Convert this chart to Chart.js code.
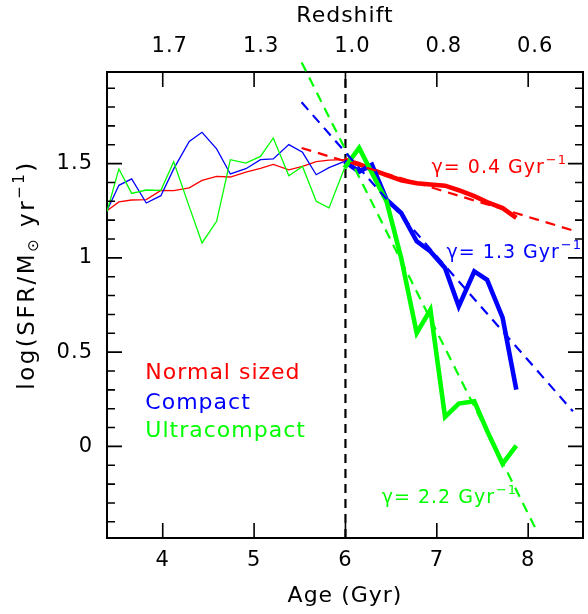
<!DOCTYPE html>
<html>
<head>
<meta charset="utf-8">
<script src="https://cdn.jsdelivr.net/npm/chart.js@4"></script>
<style>
  body { margin: 0; background: #fff; }
</style>
</head>
<body>
<canvas id="sfrChart" width="588" height="614"></canvas>
<script>
// ages (Gyr) of the binned SFR points
const ages = [3.39, 3.52, 3.66, 3.82, 3.98, 4.12, 4.29, 4.43, 4.59, 4.74,
              4.91, 5.07, 5.21, 5.38, 5.53, 5.68, 5.82, 5.99, 6.15, 6.29,
              6.45, 6.61, 6.78, 6.93, 7.09, 7.24, 7.41, 7.55, 7.72, 7.87];

// log SFR for each size class
const normalSfr = [1.250, 1.297, 1.307, 1.309, 1.358, 1.357, 1.371, 1.411, 1.432, 1.429,
                   1.455, 1.475, 1.496, 1.467, 1.485, 1.511, 1.518, 1.521, 1.497, 1.468,
                   1.439, 1.412, 1.396, 1.389, 1.383, 1.359, 1.327, 1.296, 1.264, 1.212];
const compactSfr = [1.250, 1.385, 1.419, 1.291, 1.330, 1.472, 1.618, 1.666, 1.578, 1.445,
                    1.473, 1.521, 1.525, 1.601, 1.560, 1.441, 1.479, 1.512, 1.457, 1.494,
                    1.309, 1.238, 1.088, 1.034, 0.946, 0.743, 0.928, 0.884, 0.683, 0.301];
const ultraSfr = [1.245, 1.472, 1.342, 1.360, 1.358, 1.510, 1.272, 1.079, 1.194, 1.521,
                  1.503, 1.538, 1.636, 1.436, 1.485, 1.300, 1.265, 1.477, 1.583, 1.450,
                  1.300, 0.999, 0.602, 0.725, 0.156, 0.227, 0.239, 0.083, -0.092, 0.004];

// exponential decline fits (end points)
const normalFitAges = [5.52, 8.52];
const normalFit = [1.583, 1.141];
const compactFitAges = [5.52, 8.49];
const compactFit = [1.825, 0.186];
const ultraFitAges = [5.52, 8.105];
const ultraFit = [2.037, -0.459];

const splitAge = 6.0;   // vertical marker, thick lines after it
const thickFrom = 17;   // index where the thick part starts

// axes
const ageMin = 3.39, ageMax = 8.6;
const sfrMin = -0.486, sfrMax = 1.986;
const ageTicks = [4, 5, 6, 7, 8];
const redshiftLabels = ["1.7", "1.3", "1.0", "0.8", "0.6"];
const sfrTicks = [0, 0.5, 1, 1.5];
const sfrMinorTicks = [-0.4, -0.3, -0.2, -0.1, 0.1, 0.2, 0.3, 0.4, 0.6, 0.7, 0.8, 0.9,
                       1.1, 1.2, 1.3, 1.4, 1.6, 1.7, 1.8, 1.9];

const FONT = '"DejaVu Sans", sans-serif';
const RED = "#ff0000", BLUE = "#0000ff", GREEN = "#00ff00";

function pts(xs, ys) {
    return xs.map((x, i) => ({ x: x, y: ys[i] }));
}

function sfrLine(label, values, color, order) {
    return {
        label: label,
        data: pts(ages, values),
        borderColor: color,
        borderWidth: 1.3,
        pointRadius: 0,
        order: order,
        segment: {
            borderWidth: c => c.p0DataIndex >= thickFrom ? 4.6 : 1.3
        }
    };
}

function fitLine(label, xs, ys, color, extra) {
    return Object.assign({
        label: label,
        data: pts(xs, ys),
        borderColor: color,
        borderWidth: 2.2,
        borderDash: [10, 7],
        pointRadius: 0,
        order: 0
    }, extra || {});
}

// the reference font is wide, so space the letters a little
const spacingPlugin = {
    id: "spacing",
    beforeDraw(chart) {
        chart.ctx.letterSpacing = "1px";
    }
};

// inward tick marks on all four sides
const tickPlugin = {
    id: "inwardTicks",
    afterDraw(chart) {
        const { ctx, chartArea: a, scales } = chart;
        const x = scales.x, y = scales.y;
        ctx.save();
        ctx.strokeStyle = "#000";
        ctx.lineWidth = 1.6;
        ctx.beginPath();
        ageTicks.forEach(v => {
            const px = x.getPixelForValue(v);
            ctx.moveTo(px, a.bottom); ctx.lineTo(px, a.bottom - 15);
            ctx.moveTo(px, a.top); ctx.lineTo(px, a.top + 15);
        });
        sfrTicks.forEach(v => {
            const py = y.getPixelForValue(v);
            ctx.moveTo(a.left, py); ctx.lineTo(a.left + 15, py);
            ctx.moveTo(a.right, py); ctx.lineTo(a.right - 15, py);
        });
        sfrMinorTicks.forEach(v => {
            const py = y.getPixelForValue(v);
            ctx.moveTo(a.left, py); ctx.lineTo(a.left + 8, py);
            ctx.moveTo(a.right, py); ctx.lineTo(a.right - 8, py);
        });
        ctx.stroke();
        ctx.restore();
    }
};

// text labels placed in data coordinates
const legendTexts = [
    { text: "Normal sized", color: RED, age: 3.81, sfr: 0.386 },
    { text: "Compact", color: BLUE, age: 3.81, sfr: 0.227 },
    { text: "Ultracompact", color: GREEN, age: 3.81, sfr: 0.078 }
];
const gammaTexts = [
    { text: "\u03b3= 0.4 Gyr", color: RED, age: 6.943, sfr: 1.478 },
    { text: "\u03b3= 1.3 Gyr", color: BLUE, age: 7.107, sfr: 1.027 },
    { text: "\u03b3= 2.2 Gyr", color: GREEN, age: 6.397, sfr: -0.272 }
];

const textPlugin = {
    id: "texts",
    afterDraw(chart) {
        const { ctx, scales } = chart;
        const x = scales.x, y = scales.y;
        ctx.save();
        ctx.letterSpacing = "1px";
        ctx.textBaseline = "middle";
        ctx.textAlign = "left";
        legendTexts.forEach(t => {
            ctx.font = "22px " + FONT;
            ctx.fillStyle = t.color;
            ctx.fillText(t.text, x.getPixelForValue(t.age), y.getPixelForValue(t.sfr));
        });
        gammaTexts.forEach(t => {
            const px = x.getPixelForValue(t.age), py = y.getPixelForValue(t.sfr);
            ctx.font = "19px " + FONT;
            ctx.fillStyle = t.color;
            ctx.fillText(t.text, px, py);
            const w = ctx.measureText(t.text).width;
            ctx.font = "13px " + FONT;
            ctx.fillText("\u22121", px + w + 1, py - 7);
        });

        // y axis title with subscript and superscript
        ctx.letterSpacing = "2.5px";
        const parts = [
            { t: "log(SFR/M", size: 23, dy: 0 },
            { t: "\u2299", size: 15, dy: 6 },
            { t: " yr", size: 23, dy: 0 },
            { t: "\u22121", size: 15, dy: -8 },
            { t: ")", size: 23, dy: 0 }
        ];
        let total = 0;
        parts.forEach(p => {
            ctx.font = p.size + "px " + FONT;
            p.w = ctx.measureText(p.t).width;
            total += p.w;
        });
        ctx.translate(28, 275);
        ctx.rotate(-Math.PI / 2);
        ctx.fillStyle = "#000";
        let cx = -total / 2;
        parts.forEach(p => {
            ctx.font = p.size + "px " + FONT;
            ctx.fillText(p.t, cx, p.dy);
            cx += p.w;
        });
        ctx.restore();
    }
};

const ctx = document.getElementById("sfrChart").getContext("2d");
Chart.defaults.color = "#000";
Chart.defaults.font.family = FONT;

new Chart(ctx, {
    type: "line",
    data: {
        datasets: [
            sfrLine("Ultracompact", ultraSfr, GREEN, 1),
            sfrLine("Compact", compactSfr, BLUE, 2),
            sfrLine("Normal sized", normalSfr, RED, 3),
            fitLine("Normal fit", normalFitAges, normalFit, RED),
            fitLine("Compact fit", compactFitAges, compactFit, BLUE),
            fitLine("Ultracompact fit", ultraFitAges, ultraFit, GREEN, { clip: false }),
            {
                label: "z = 1",
                data: pts([splitAge, splitAge], [sfrMin, sfrMax]),
                borderColor: "#000",
                borderWidth: 2.2,
                borderDash: [9, 6],
                pointRadius: 0,
                order: 4
            }
        ]
    },
    options: {
        responsive: false,
        animation: false,
        layout: { padding: { left: 0, right: 5, top: 0, bottom: 0 } },
        plugins: { legend: { display: false }, tooltip: { enabled: false } },
        scales: {
            x: {
                type: "linear",
                position: "bottom",
                min: ageMin, max: ageMax,
                afterBuildTicks: s => { s.ticks = ageTicks.map(v => ({ value: v })); },
                afterFit: s => { s.height = 76; },
                grid: { display: false, drawTicks: false },
                border: { display: true, color: "#000", width: 2 },
                ticks: { font: { size: 21 }, padding: 10, maxRotation: 0, autoSkip: false,
                         callback: v => String(v) },
                title: { display: true, text: "Age (Gyr)", font: { size: 22 },
                         padding: { top: 0, bottom: 5 } }
            },
            x2: {
                type: "linear",
                position: "top",
                min: ageMin, max: ageMax,
                afterBuildTicks: s => { s.ticks = ageTicks.map(v => ({ value: v })); },
                afterFit: s => { s.height = 72; },
                grid: { display: false, drawTicks: false },
                border: { display: true, color: "#000", width: 2 },
                ticks: { font: { size: 21 }, padding: 13, labelOffset: 7, maxRotation: 0,
                         autoSkip: false,
                         callback: v => redshiftLabels[ageTicks.indexOf(v)] },
                title: { display: true, text: "Redshift", font: { size: 22 },
                         padding: { top: 3, bottom: 0 } }
            },
            y: {
                type: "linear",
                position: "left",
                min: sfrMin, max: sfrMax,
                afterBuildTicks: s => { s.ticks = sfrTicks.map(v => ({ value: v })); },
                afterFit: s => { s.width = 107; },
                grid: { display: false, drawTicks: false },
                border: { display: true, color: "#000", width: 2 },
                ticks: { font: { size: 21 }, padding: 14, callback: v => String(v) }
            },
            y2: {
                type: "linear",
                position: "right",
                min: sfrMin, max: sfrMax,
                afterFit: s => { s.width = 0; },
                grid: { display: false, drawTicks: false },
                border: { display: true, color: "#000", width: 2 },
                ticks: { display: false }
            }
        }
    },
    plugins: [spacingPlugin, tickPlugin, textPlugin]
});
</script>
</body>
</html>
